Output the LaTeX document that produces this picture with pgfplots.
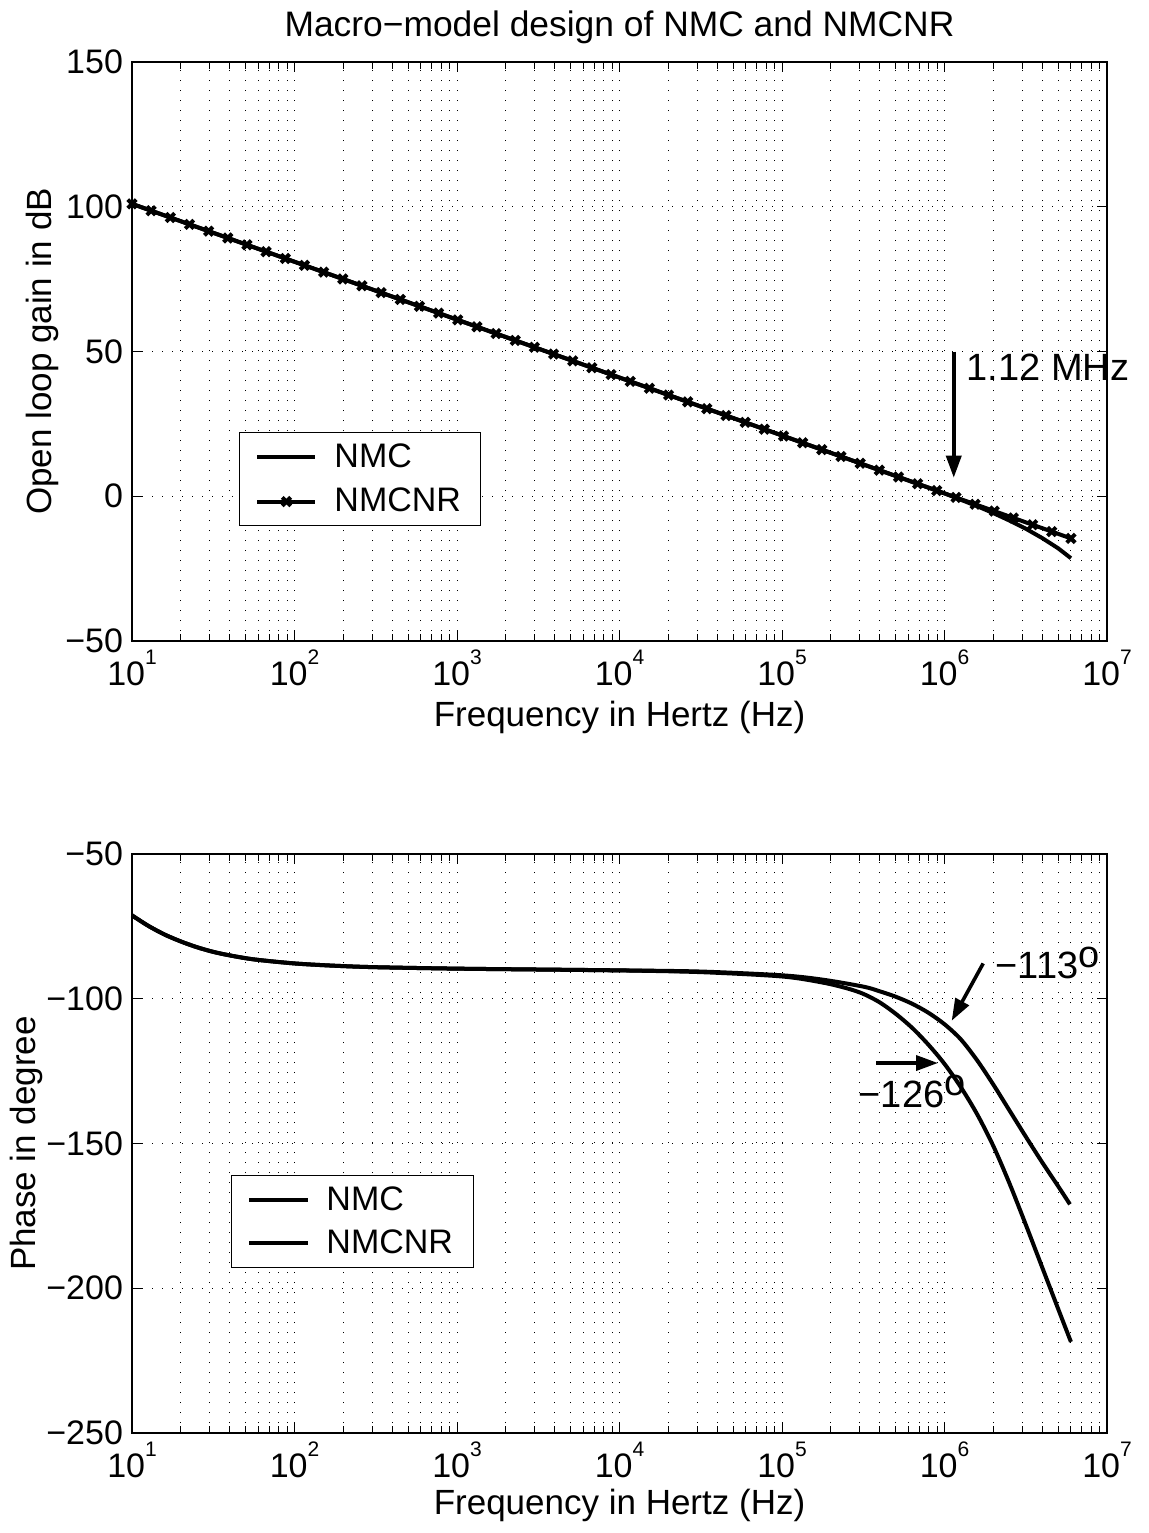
\documentclass[border=0pt]{standalone}
\usepackage{fontspec}
\setmainfont{Liberation Sans}
\usepackage{pgfplots}
\usepackage{pgfplotstable}
\pgfplotsset{compat=1.18}
\usetikzlibrary{arrows.meta}

\pgfplotstableread{
lf g
1.0000 101.00
1.1179 98.64
1.2358 96.28
1.3538 93.92
1.4717 91.57
1.5896 89.21
1.7075 86.85
1.8254 84.49
1.9434 82.13
2.0613 79.77
2.1792 77.42
2.2971 75.06
2.4150 72.70
2.5330 70.34
2.6509 67.98
2.7688 65.62
2.8867 63.27
3.0046 60.91
3.1226 58.55
3.2405 56.19
3.3584 53.83
3.4763 51.47
3.5942 49.12
3.7122 46.76
3.8301 44.40
3.9480 42.04
4.0659 39.68
4.1838 37.32
4.3018 34.96
4.4197 32.61
4.5376 30.25
4.6555 27.89
4.7734 25.53
4.8914 23.17
5.0093 20.81
5.1272 18.46
5.2451 16.10
5.3630 13.74
5.4810 11.38
5.5989 9.02
5.7168 6.66
5.8347 4.31
5.9526 1.95
6.0706 -0.41
6.1885 -2.77
6.3064 -5.13
6.4243 -7.49
6.5422 -9.84
6.6602 -12.20
6.7781 -14.56
}\gainnmcnr

\pgfplotstableread{
lf g
1.0 101.0
2.0 81.0
3.0 61.0
4.0 41.0
5.0 21.0
5.5 11.0
6.0 1.0
6.1 -1.2
6.2 -3.4
6.3 -5.8
6.4 -8.4
6.5 -11.2
6.6 -14.4
6.7 -18.0
6.778 -21.4
}\gainnmc

\pgfplotstableread{
lf ph
1.0 -71.2
1.1 -74.8
1.2 -77.8
1.3 -80.2
1.4 -82.2
1.5 -83.8
1.6 -85.0
1.75 -86.4
2.0 -87.8
2.25 -88.6
2.5 -89.1
3.0 -89.6
3.5 -89.9
4.0 -90.2
4.5 -90.8
5.0 -92.3
5.25 -94.4
5.4 -96.4
5.5 -98.3
5.6 -101.2
5.7 -105.2
5.8 -110.0
5.9 -115.8
6.0 -122.5
6.1 -130.5
6.2 -139.8
6.3 -150.8
6.4 -163.8
6.5 -178.0
6.6 -192.6
6.7 -207.2
6.778 -218.5
}\phnmc

\pgfplotstableread{
lf ph
1.0 -71.2
1.1 -74.8
1.2 -77.8
1.3 -80.2
1.4 -82.2
1.5 -83.8
1.6 -85.0
1.75 -86.4
2.0 -87.8
2.25 -88.6
2.5 -89.1
3.0 -89.6
3.5 -89.9
4.0 -90.2
4.5 -90.6
5.0 -91.9
5.25 -93.4
5.5 -95.8
5.6 -97.4
5.7 -99.3
5.8 -101.7
5.9 -104.8
6.0 -108.8
6.1 -114.0
6.2 -121.2
6.3 -129.6
6.4 -138.6
6.5 -147.6
6.6 -156.4
6.7 -164.8
6.772 -171.0
}\phnmcnr

\newcommand{\fs}{\fontsize{17}{20}\selectfont}
\newcommand{\fa}{\fontsize{19}{22}\selectfont}
\newcommand{\ex}[1]{10\raisebox{10.5pt}{\fontsize{10.5}{11}\selectfont #1}}

\pgfplotsset{
  legend image code/.code={\draw[#1, mark repeat=2, mark phase=2] plot coordinates {(0pt,0pt) (14.5pt,0pt) (29pt,0pt)};},
  every axis/.append style={
    scale only axis, width=487.5pt, height=289.5pt,
    anchor=south west,
    xmin=10, xmax=1e7,
    xtick={1e1,1e2,1e3,1e4,1e5,1e6,1e7},
    xticklabels={\ex{1},\ex{2},\ex{3},\ex{4},\ex{5},\ex{6},\ex{7}},
    minor xtick={2e1,3e1,4e1,5e1,6e1,7e1,8e1,9e1,
                 2e2,3e2,4e2,5e2,6e2,7e2,8e2,9e2,
                 2e3,3e3,4e3,5e3,6e3,7e3,8e3,9e3,
                 2e4,3e4,4e4,5e4,6e4,7e4,8e4,9e4,
                 2e5,3e5,4e5,5e5,6e5,7e5,8e5,9e5,
                 2e6,3e6,4e6,5e6,6e6,7e6,8e6,9e6},
    tick align=inside,
    major tick length=5pt, minor tick length=3.5pt,
    xmajorgrids, xminorgrids, ymajorgrids,
    grid style={black, line width=0.5pt, dash pattern=on 0.5pt off 4.5pt},
    minor grid style={black, line width=0.5pt, dash pattern=on 0.5pt off 4.5pt},
    axis line style={line width=0.6pt},
    every tick/.style={black, line width=0.5pt},
    tick label style={font=\fs},
    xticklabel style={yshift=-1pt},
    yticklabel style={xshift=-1pt},
    label style={font=\fontsize{17.5}{20}\selectfont},
    xlabel={Frequency in Hertz (Hz)},
    clip=false,
    legend cell align=left,
  },
}

\begin{document}
\begin{tikzpicture}
\path[use as bounding box] (-66pt,-446pt) rectangle (508.5pt,320.5pt);

\begin{semilogxaxis}[at={(0,0)},
  ymin=-50, ymax=150,
  ytick={-50,0,50,100,150},
  yticklabels={−50,0,50,100,150},
  ylabel={Open loop gain in dB},
  ylabel style={at={(axis description cs:-0.0923,0.5)}, anchor=center},
  xlabel style={at={(axis description cs:0.5,0)}, yshift=-38pt, anchor=center},
  title={Macro−model design of NMC and NMCNR},
  title style={at={(axis description cs:0.5,1)}, yshift=11.5pt, anchor=center, font=\fontsize{17.7}{20}\selectfont},
  legend style={at={(axis description cs:0.1097,0.361)}, anchor=north west,
    draw=black, line width=0.5pt, fill=white, font=\fs,
    inner xsep=8pt, inner ysep=3.5pt, row sep=5pt, column sep=6.5pt,
    nodes={inner sep=2pt}},
]
\addplot[black, line width=2pt] table[x expr={10^\thisrow{lf}}, y=g] {\gainnmc};
\addlegendentry{NMC}
\addplot[black, line width=2pt, mark=x, mark size=3pt, mark options={line width=2pt}] table[x expr={10^\thisrow{lf}}, y=g] {\gainnmcnr};
\addlegendentry{NMCNR}
\draw[line width=1.8pt, -{Triangle[length=11pt,width=7.5pt]}] (axis cs:1.14e6,50) -- (axis cs:1.14e6,6.4);
\node[anchor=base west, inner sep=0pt, font=\fa] at (axis cs:1.36e6,40.0) {1.12 MHz};
\end{semilogxaxis}

\begin{semilogxaxis}[at={(0,-396pt)},
  ymin=-250, ymax=-50,
  ytick={-250,-200,-150,-100,-50},
  yticklabels={−250,−200,−150,−100,−50},
  ylabel={Phase in degree},
  ylabel style={at={(axis description cs:-0.1087,0.5)}, anchor=center},
  xlabel style={at={(axis description cs:0.5,0)}, yshift=-36pt, anchor=center},
  legend style={at={(axis description cs:0.1015,0.4454)}, anchor=north west,
    draw=black, line width=0.5pt, fill=white, font=\fs,
    inner xsep=8pt, inner ysep=3.5pt, row sep=4pt, column sep=6.5pt,
    nodes={inner sep=2pt}},
]
\addplot[black, line width=2pt, smooth] table[x expr={10^\thisrow{lf}}, y=ph] {\phnmc};
\addlegendentry{NMC}
\addplot[black, line width=2pt, smooth] table[x expr={10^\thisrow{lf}}, y=ph] {\phnmcnr};
\addlegendentry{NMCNR}
\draw[line width=1.8pt, -{Triangle[length=11pt,width=7.5pt]}] (axis cs:1.73e6,-87.8) -- (axis cs:1.107e6,-107.6);
\draw[line width=1.8pt, -{Triangle[length=11pt,width=7.5pt]}] (axis cs:3.79e5,-122.2) -- (axis cs:9.12e5,-122.2);
\node[anchor=base west, inner sep=0pt, font=\fa] at (axis cs:2.05e6,-93.1) {−113\raisebox{5.5pt}{o}};
\node[anchor=base west, inner sep=0pt, font=\fa] at (axis cs:2.95e5,-137.5) {−126\raisebox{6pt}{o}};
\end{semilogxaxis}
\end{tikzpicture}
\end{document}
